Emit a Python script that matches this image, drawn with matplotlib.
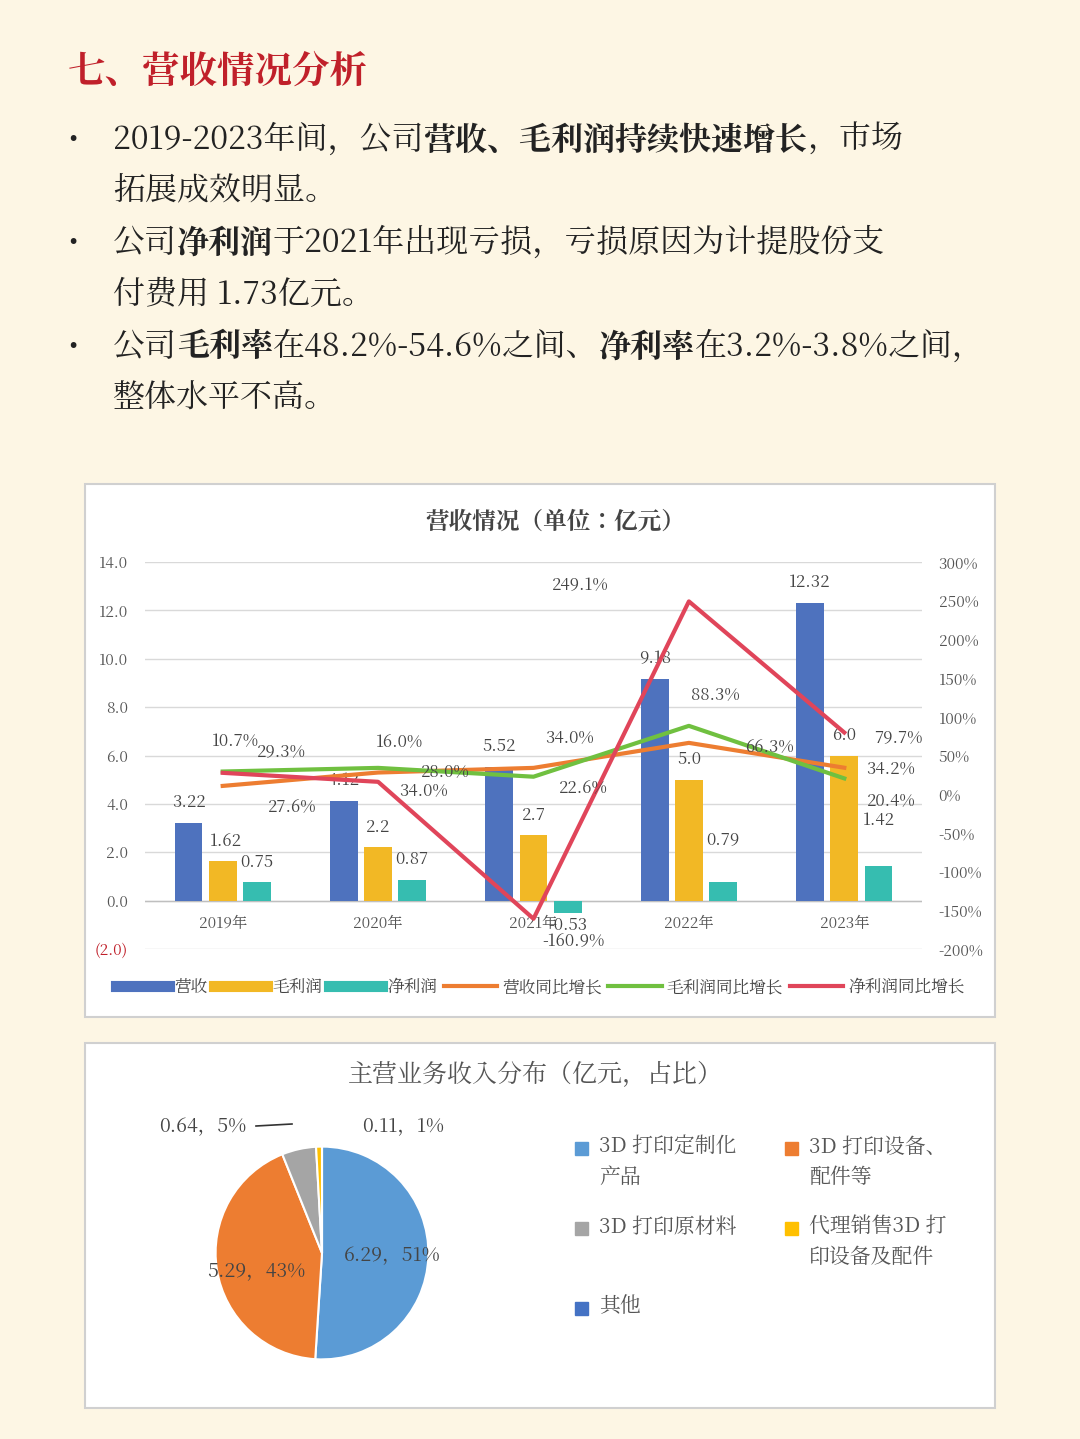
import matplotlib
matplotlib.use("Agg")
import matplotlib.pyplot as plt
from matplotlib.patches import Rectangle
from matplotlib.lines import Line2D
from matplotlib import font_manager as fm
import numpy as np

cjk = [f.name for f in fm.fontManager.ttflist if "CJK" in f.name and "SC" in f.name]
if not cjk:
    cjk = [f.name for f in fm.fontManager.ttflist if "CJK" in f.name]
fam = cjk[0] if cjk else "Noto Sans CJK SC"
plt.rcParams['font.family'] = [fam, "DejaVu Sans"]

years = ["2019年", "2020年", "2021年", "2022年", "2023年"]
revenue = [3.22, 4.12, 5.52, 9.18, 12.32]
gross = [1.62, 2.2, 2.7, 5.0, 6.0]
net = [0.75, 0.87, -0.53, 0.79, 1.42]
rev_g = [10.7, 28.0, 34.0, 66.3, 34.2]
gross_g = [29.3, 34.0, 22.6, 88.3, 20.4]
net_g = [27.6, 16.0, -160.9, 249.1, 79.7]

pie_labels = ["3D 打印定制化\n产品", "3D 打印设备、\n配件等", "3D 打印原材料", "代理销售3D 打\n印设备及配件", "其他"]
pie_vals = [6.29, 5.29, 0.64, 0.11, 0.0]
pie_pct = ["51%", "43%", "5%", "1%", "0%"]

BG = "#FDF6E4"
C_BLUE, C_YEL, C_TEAL = "#4E72BE", "#F2B825", "#36BDB0"
C_OR, C_GR, C_RED = "#ED7D31", "#70C040", "#E0455A"

W, H = 1080, 1439
fig = plt.figure(figsize=(10.8, 14.39), dpi=100, facecolor=BG)

def fx(x): return x / W
def fy(y): return 1 - y / H

fig.text(fx(68), fy(72), "七、营收情况分析", color="#C0202A", fontsize=27, fontweight="bold", va="center")

lines = [
    (140, True, [("2019-2023年间，公司", False), ("营收、毛利润持续快速增长", True), ("，市场", False)]),
    (190, False, [("拓展成效明显。", False)]),
    (243, True, [("公司", False), ("净利润", True), ("于2021年出现亏损，亏损原因为计提股份支", False)]),
    (295, False, [("付费用 1.73亿元。", False)]),
    (347, True, [("公司", False), ("毛利率", True), ("在48.2%-54.6%之间、", False), ("净利率", True), ("在3.2%-3.8%之间，", False)]),
    (399, False, [("整体水平不高。", False)]),
]
fig.canvas.draw()
r = fig.canvas.get_renderer()
for y, bullet, segs in lines:
    if bullet:
        fig.text(fx(68), fy(y), "•", fontsize=20, va="center", color="#222")
    x = 113
    for s, b in segs:
        t = fig.text(fx(x), fy(y), s, fontsize=23, va="center", color="#222",
                     fontweight="bold" if b else "normal")
        bb = t.get_window_extent(renderer=r)
        x += bb.width

for (x0, y0, x1, y1) in [(85, 484, 995, 1017), (85, 1043, 995, 1408)]:
    fig.patches.append(Rectangle((fx(x0), fy(y1)), fx(x1 - x0), (y1 - y0) / H,
                                 transform=fig.transFigure, facecolor="white",
                                 edgecolor="#D0D0D0", lw=1.5, zorder=-10))

fig.text(fx(555), fy(522), "营收情况（单位：亿元）", fontsize=17, fontweight="bold",
         ha="center", va="center", color="#444")

ax = fig.add_axes([fx(145), fy(949), fx(777), 387 / H])
ax.set_facecolor("none")
x = np.arange(len(years))
w = 0.18
ax.bar(x - 0.22, revenue, w, color=C_BLUE, zorder=3)
ax.bar(x, gross, w, color=C_YEL, zorder=3)
ax.bar(x + 0.22, net, w, color=C_TEAL, zorder=3)
ax.set_ylim(-2, 14)
ax.set_xlim(-0.5, 4.5)
ax.set_yticks(np.arange(-2, 15, 2))
ax.set_yticklabels(["(2.0)"] + [f"{v:.1f}" for v in range(0, 15, 2)])
ax.tick_params(axis="y", length=0, labelsize=11, colors="#555", pad=12)
ax.get_yticklabels()[0].set_color("#C0202A")
ax.set_xticks([])
ax.grid(axis="y", color="#D9D9D9", lw=1)
ax.set_axisbelow(True)
for s in ax.spines.values():
    s.set_visible(False)
ax.axhline(0, color="#BFBFBF", lw=1, zorder=2)
for i, yl in enumerate(years):
    ax.text(i, -0.95, yl, ha="center", va="center", fontsize=11, color="#555")

def lab(i, v, dx, dy, txt=None):
    ax.text(i + dx, v + dy, txt if txt else f"{v:g}", ha="center", va="center", fontsize=12, color="#444", zorder=6)

for i in range(5):
    lab(i - 0.22, revenue[i], 0, 0.85, f"{revenue[i]:.2f}")
lab(0, 1.62, 0.02, 0.85); lab(1, 2.2, 0, 0.85); lab(2, 2.7, 0, 0.85); lab(3, 5.0, 0, 0.85, "5.0"); lab(4, 6.0, 0, 0.85, "6.0")
lab(0.22, 0.75, 0, 0.85); lab(1.22, 0.87, 0, 0.85); lab(2.22, -0.53, 0, -0.5); lab(3.22, 0.79, 0, 1.7); lab(4.22, 1.42, 0, 1.9)

ax2 = ax.twinx()
ax2.set_ylim(-200, 300)
ax2.set_yticks(np.arange(-200, 301, 50))
ax2.set_yticklabels([f"{v}%" for v in range(-200, 301, 50)])
ax2.tick_params(axis="y", length=0, labelsize=11, colors="#555", pad=12)
for s in ax2.spines.values():
    s.set_visible(False)
ax2.plot(x, rev_g, color=C_OR, lw=3, zorder=4)
ax2.plot(x, gross_g, color=C_GR, lw=3, zorder=4)
ax2.plot(x, net_g, color=C_RED, lw=3, zorder=5)

def plab(xx, yy, v):
    ax2.text(xx, yy, f"{v:.1f}%", ha="center", va="center", fontsize=12, color="#444", zorder=6)
plab(0.08, 68, 10.7); plab(0.38, 54, 29.3); plab(0.45, -17, 27.6)
plab(1.14, 67, 16.0); plab(1.43, 29, 28.0); plab(1.29, 5, 34.0)
plab(2.23, 74, 34.0); plab(2.32, 8, 22.6); plab(2.26, -191, -160.9)
plab(2.3, 270, 249.1); plab(3.17, 129, 88.3); plab(3.52, 61, 66.3)
plab(4.35, 72, 79.7); plab(4.3, 34, 34.2); plab(4.3, -8, 20.4)

handles = [Line2D([], [], color=c, lw=8) for c in (C_BLUE, C_YEL, C_TEAL)] + \
          [Line2D([], [], color=c, lw=3) for c in (C_OR, C_GR, C_RED)]
names = ["营收", "毛利润", "净利润", "营收同比增长", "毛利润同比增长", "净利润同比增长"]
fig.legend(handles, names, loc="center", bbox_to_anchor=(fx(540), fy(987)), ncol=6,
           frameon=False, fontsize=12, handlelength=3.2, handletextpad=0.3, columnspacing=0.4,
           labelcolor="#444")

fig.text(fx(535), fy(1075), "主营业务收入分布（亿元，占比）", fontsize=18, ha="center", va="center", color="#555")
pax = fig.add_axes([fx(189), fy(1386), fx(266), 266 / H])
pcols = ["#5B9BD5", "#ED7D31", "#A5A5A5", "#FFC000", "#4472C4"]
pax.pie(pie_vals, colors=pcols, startangle=90, counterclock=False,
        wedgeprops=dict(edgecolor="white", linewidth=1.5))
pax.set_aspect("equal")
fig.text(fx(392), fy(1256), f"{pie_vals[0]}，{pie_pct[0]}", fontsize=14, ha="center", va="center", color="#444")
fig.text(fx(256), fy(1271), f"{pie_vals[1]}，{pie_pct[1]}", fontsize=14, ha="center", va="center", color="#444")
fig.text(fx(203), fy(1127), f"{pie_vals[2]}，{pie_pct[2]}", fontsize=14, ha="center", va="center", color="#444")
fig.text(fx(403), fy(1126), f"{pie_vals[3]}，{pie_pct[3]}", fontsize=14, ha="center", va="center", color="#444")
fig.lines.append(Line2D([fx(256), fx(292)], [fy(1126), fy(1124)], transform=fig.transFigure, color="#333", lw=1.2))

leg_pos = [(575, 1148), (785, 1148), (575, 1228), (785, 1228), (575, 1308)]
for (lx, ly), lbl, c in zip(leg_pos, pie_labels, pcols):
    fig.patches.append(Rectangle((fx(lx), fy(ly + 7)), fx(13), 13 / H, transform=fig.transFigure, color=c))
    fig.text(fx(lx + 24), fy(ly - 12), lbl, fontsize=15, va="top", color="#555", linespacing=1.5)

fig.savefig("out.png", dpi=100, facecolor=BG)
